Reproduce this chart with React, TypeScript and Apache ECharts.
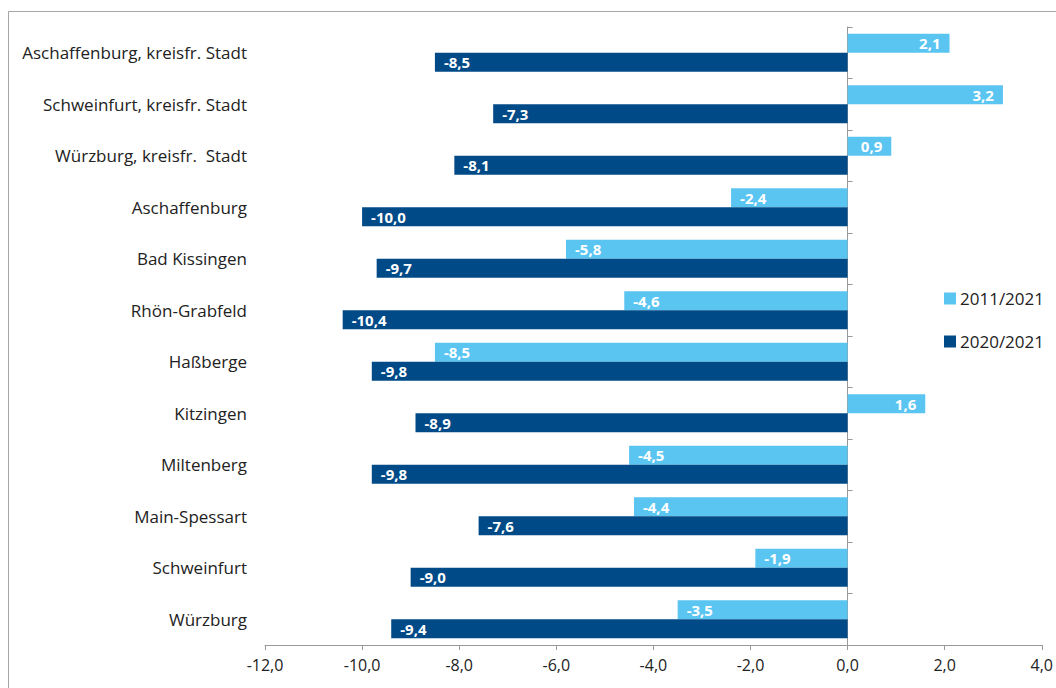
import React, { useEffect, useRef } from "react";
import * as echarts from "echarts";

const categories = [
  "Aschaffenburg, kreisfr. Stadt",
  "Schweinfurt, kreisfr. Stadt",
  "Würzburg, kreisfr.  Stadt",
  "Aschaffenburg",
  "Bad Kissingen",
  "Rhön-Grabfeld",
  "Haßberge",
  "Kitzingen",
  "Miltenberg",
  "Main-Spessart",
  "Schweinfurt",
  "Würzburg",
];
const series2011 = [2.1, 3.2, 0.9, -2.4, -5.8, -4.6, -8.5, 1.6, -4.5, -4.4, -1.9, -3.5];
const series2020 = [-8.5, -7.3, -8.1, -10.0, -9.7, -10.4, -9.8, -8.9, -9.8, -7.6, -9.0, -9.4];
const seriesNames = ["2011/2021", "2020/2021"];
const colors = ["#5BC5F2", "#004A87"];

const fmt = (v: number) => v.toFixed(1).replace(".", ",");
const FONT = "'Open Sans', 'Noto Sans', sans-serif";

function toData(arr: number[]) {
  return arr.map((v) => ({
    value: v,
    label: { position: v >= 0 ? "insideRight" : "insideLeft" },
  }));
}

export default function App() {
  const ref = useRef<HTMLDivElement>(null);
  useEffect(() => {
    if (!ref.current) return;
    const chart = echarts.init(ref.current, undefined, { renderer: "svg" });
    const labelCfg = {
      show: true,
      color: "#ffffff",
      fontWeight: "bold" as const,
      fontSize: 15,
      fontFamily: FONT,
      distance: 9,
      formatter: (p: any) => fmt(p.value),
    };
    chart.setOption({
      animation: false,
      backgroundColor: "#ffffff",
      graphic: [
        {
          type: "rect",
          shape: { x: 8.5, y: 11.5, width: 1200, height: 900 },
          style: { fill: "none", stroke: "#a6a6a6", lineWidth: 1 },
          silent: true,
          z: -10,
        },
      ],
      grid: { left: 265, right: 10, top: 27, bottom: 43, containLabel: false },
      legend: {
        orient: "vertical",
        left: 944,
        top: 290,
        padding: 0,
        itemWidth: 12,
        itemHeight: 12,
        itemGap: 26,
        icon: "rect",
        data: seriesNames,
        textStyle: { fontFamily: FONT, fontSize: 17, color: "#222", padding: [0, 0, 0, -1] },
      },
      xAxis: {
        type: "value",
        min: -12,
        max: 4,
        interval: 2,
        axisLine: { show: true, onZero: false, lineStyle: { color: "#999" } },
        axisTick: { show: true, length: 5, lineStyle: { color: "#999" } },
        splitLine: { show: false },
        axisLabel: {
          formatter: (v: number) => fmt(v),
          fontFamily: FONT,
          fontSize: 16,
          color: "#222",
          margin: 12,
        },
      },
      yAxis: [
        {
          type: "category",
          data: categories,
          inverse: true,
          position: "left",
          axisLine: { show: false, onZero: false },
          axisTick: { show: false },
          axisLabel: {
            fontFamily: FONT,
            fontSize: 17,
            color: "#222",
            margin: 18,
          },
        },
        {
          type: "category",
          data: categories,
          inverse: true,
          axisLine: { show: true, onZero: true, lineStyle: { color: "#999" } },
          axisTick: { show: true, length: 5, lineStyle: { color: "#999" } },
          axisLabel: { show: false },
        },
      ],
      series: [
        {
          name: seriesNames[0],
          type: "bar",
          yAxisIndex: 0,
          data: toData(series2011),
          itemStyle: { color: colors[0] },
          label: labelCfg,
          barGap: "0%",
          barCategoryGap: "26%",
        },
        {
          name: seriesNames[1],
          type: "bar",
          yAxisIndex: 0,
          data: toData(series2020),
          itemStyle: { color: colors[1] },
          label: labelCfg,
          barGap: "0%",
          barCategoryGap: "26%",
        },
      ],
    });
    return () => chart.dispose();
  }, []);
  return (
    <div
      ref={ref}
      style={{ position: "fixed", left: 0, top: 0, width: 1056, height: 688 }}
    />
  );
}
